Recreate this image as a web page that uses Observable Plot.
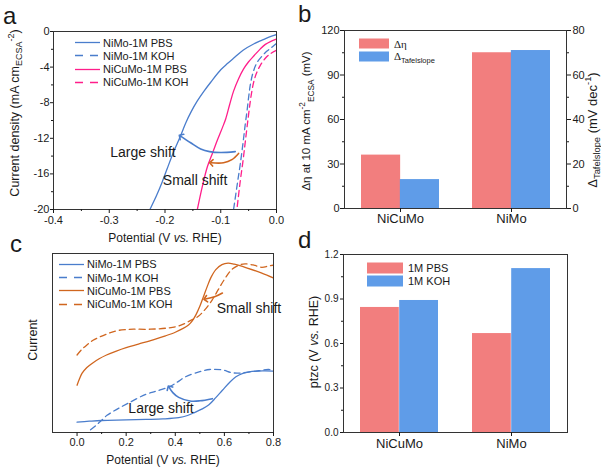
<!DOCTYPE html>
<html><head><meta charset="utf-8">
<script src="https://cdn.jsdelivr.net/npm/d3@7"></script>
<script src="https://cdn.jsdelivr.net/npm/@observablehq/plot@0.6"></script>
<style>
body{margin:0;background:#fff;}
#fig{position:relative;width:601px;height:467px;font-family:Arial,"Liberation Sans",sans-serif;color:#1a1a1a;overflow:hidden;background:#fff;}
.lbl{position:absolute;white-space:nowrap;line-height:1;}
.c{transform:translate(-50%,-50%);}
.r{transform:translate(-50%,-50%) rotate(-90deg);}
sub,sup{font-size:72%;line-height:0;}
i{font-style:italic;}
</style></head><body><div id="fig"></div>
<script>
// ---------- data: panel a (LSV) ----------
const aNames = ["NiMo-1M PBS","NiMo-1M KOH","NiCuMo-1M PBS","NiCuMo-1M KOH"];
const aNiMoPBS = [[0,-0.35],[-0.01,-0.55],[-0.025,-0.95],[-0.041,-1.4],[-0.06,-2.1],[-0.075,-2.9],[-0.088,-3.6],[-0.1,-4.3],[-0.118,-5.7],[-0.13,-6.7],[-0.142,-7.8],[-0.153,-9.0],[-0.163,-10.3],[-0.172,-11.7],[-0.185,-13.6],[-0.196,-15.4],[-0.205,-16.9],[-0.215,-18.4],[-0.227,-20]];
const aNiMoKOH = [[0,-1.35],[-0.005,-1.6],[-0.01,-1.85],[-0.017,-2.2],[-0.025,-2.7],[-0.035,-3.5],[-0.042,-4.6],[-0.047,-6.0],[-0.05,-7.4],[-0.053,-9.0],[-0.056,-10.4],[-0.06,-12.5],[-0.065,-14.9],[-0.07,-17],[-0.077,-20]];
const aNiCuMoPBS = [[0,-0.85],[-0.01,-1.1],[-0.02,-1.45],[-0.029,-1.95],[-0.04,-2.7],[-0.05,-3.4],[-0.059,-4.2],[-0.068,-5.3],[-0.077,-6.7],[-0.084,-8.2],[-0.091,-9.8],[-0.097,-10.8],[-0.106,-12.2],[-0.115,-13.7],[-0.124,-15.2],[-0.133,-17.4],[-0.142,-20]];
const aNiCuMoKOH = [[0,-2.1],[-0.011,-2.5],[-0.02,-3.0],[-0.029,-3.8],[-0.036,-4.7],[-0.041,-5.7],[-0.045,-7.0],[-0.048,-8.3],[-0.05,-9.3],[-0.052,-10.3],[-0.056,-12.4],[-0.06,-14.5],[-0.065,-16.8],[-0.071,-20]];
const aArrowLarge = [[-0.074,-13.5],[-0.1,-13.6],[-0.12,-13.5],[-0.136,-13.2],[-0.154,-12.5],[-0.172,-11.75]];
const aArrowSmall = [[-0.068,-13.7],[-0.08,-14.4],[-0.095,-14.75],[-0.117,-14.75]];
const aNoteText = ["Large shift","Small shift"];
const aNoteX = [-0.2395,-0.146];
const aNoteY = [-13.56,-16.74];
const aXTicks = [-0.4,-0.3,-0.2,-0.1,0];
const aXMinor = [-0.35,-0.25,-0.15,-0.05];
const aYTicks = [0,-4,-8,-12,-16,-20];
const aYMinor = [-2,-6,-10,-14,-18];

// ---------- data: panel b ----------
const bCats = ["NiCuMo","NiMo"];
const bEta = [36,105];
const bTafel = [13,71];
const bLeftTicks = [0,30,60,90,120];
const bLeftMinor = [15,45,75,105];
const bRightTicks = [0,20,40,60,80];
const bRightMinor = [10,30,50,70];

// ---------- data: panel c ----------
const cNames = ["NiMo-1M PBS","NiMo-1M KOH","NiCuMo-1M PBS","NiCuMo-1M KOH"];
const cNiMoPBS = [[0,5.8],[0.05,6.3],[0.1,6.7],[0.2,7.0],[0.28,7.3],[0.35,7.6],[0.414,8.3],[0.45,9.5],[0.482,11.4],[0.51,13.2],[0.537,15.5],[0.565,19.5],[0.592,23.6],[0.62,27.8],[0.647,31.1],[0.675,33],[0.701,33.9],[0.756,34.4],[0.8,34.3]];
const cNiMoKOH = [[0.055,1.5],[0.08,4.3],[0.1,6.8],[0.122,9.6],[0.16,12.8],[0.21,16.5],[0.28,21.3],[0.32,23],[0.375,25.5],[0.41,28.3],[0.44,31],[0.5,34],[0.54,35.2],[0.59,35],[0.63,33.4],[0.66,33.2],[0.69,33.6],[0.74,34.5],[0.78,35.2],[0.8,34.6]];
const cNiCuMoPBS = [[0,26.4],[0.01,30],[0.02,33],[0.04,36.3],[0.061,38.6],[0.09,41.2],[0.12,43.3],[0.16,45.5],[0.2,47.4],[0.25,49.4],[0.31,51.8],[0.36,54],[0.4,56],[0.43,58],[0.455,60.2],[0.47,62.5],[0.485,66],[0.5,70.5],[0.515,76],[0.53,81.5],[0.545,86.5],[0.565,91],[0.59,93.8],[0.615,94.6],[0.64,94],[0.69,92],[0.75,89.2],[0.8,86.3]];
const cNiCuMoKOH = [[0,43.3],[0.02,46.5],[0.04,48.9],[0.065,51.5],[0.094,53.5],[0.13,55.5],[0.163,56.9],[0.2,57.5],[0.23,57.7],[0.3,57.7],[0.37,58.4],[0.41,59.4],[0.44,61],[0.465,62.8],[0.49,64.5],[0.52,68.5],[0.55,74],[0.575,79.8],[0.6,85.5],[0.63,91],[0.66,93.5],[0.684,94.2],[0.72,93.5],[0.752,92.3],[0.78,93],[0.8,93.5]];
const cArrowLarge = [[0.551,18.9],[0.5,17.7],[0.46,17.6],[0.414,19.6],[0.39,22.3],[0.375,25.2]];
const cArrowSmall = [[0.592,77.9],[0.56,75.8],[0.523,74.6]];
const cNoteText = ["Small shift","Large shift"];
const cNoteX = [0.70,0.342];
const cNoteY = [69.5,13.3];
const cXTicks = [0,0.2,0.4,0.6,0.8];
const cXMinor = [0.1,0.3,0.5,0.7];

// ---------- data: panel d ----------
const dCats = ["NiCuMo","NiMo"];
const dPBS = [0.843,0.667];
const dKOH = [0.89,1.105];
const dTicks = [0,0.3,0.6,0.9,1.2];
const dMinor = [0.15,0.45,0.75,1.05];

// ---------- styling ----------
const FONT = 'Arial, "Liberation Sans", sans-serif';
const BLUE = "#4a7dcc", PINK = "#ff1e8a", ORANGE = "#d0661f";
const RED_BAR = "#f27e7e", BLUE_BAR = "#5f9ce8";
const FRAME = "#333";
const fig = document.getElementById("fig");
const baseStyle = {background:"transparent", fontFamily: FONT, color:"#1a1a1a", overflow:"visible"};

function place(el, left, top){
  const d = document.createElement("div");
  d.style.cssText = `position:absolute;left:${left}px;top:${top}px;`;
  d.appendChild(el); fig.appendChild(d);
}
function label(html, x, y, size, cls){
  const d = document.createElement("div");
  d.className = "lbl " + (cls||"");
  d.style.left = x+"px"; d.style.top = y+"px"; d.style.fontSize = size+"px";
  d.innerHTML = html; fig.appendChild(d);
}
function lineLegend(x, y0, dy, names, colors, dashes){
  names.forEach((n,i)=>{
    const row = document.createElement("div");
    row.className = "lbl";
    row.style.cssText += `left:${x}px;top:${y0+i*dy}px;transform:translateY(-50%);font-size:11px;display:flex;align-items:center;`;
    row.innerHTML = `<svg width="25" height="4" style="margin-right:3px;overflow:visible"><line x1="0" x2="25" y1="2" y2="2" stroke="${colors[i]}" stroke-width="1.3" ${dashes[i]?'stroke-dasharray="8,7"':''}/></svg><span>${n}</span>`;
    fig.appendChild(row);
  });
}
function boxLegend(x, y0, dy, w, h, colors, htmls, size){
  htmls.forEach((t,i)=>{
    const row = document.createElement("div");
    row.className = "lbl";
    row.style.cssText += `left:${x}px;top:${y0+i*dy}px;transform:translateY(-50%);font-size:${size}px;display:flex;align-items:center;`;
    row.innerHTML = `<span style="display:inline-block;width:${w}px;height:${h}px;background:${colors[i]};margin-right:5px"></span><span>${t}</span>`;
    fig.appendChild(row);
  });
}
const xy = {x: d=>d[0], y: d=>d[1]};
const curveLine = (pts, color, dash) => Plot.line(pts, {...xy, stroke: color, strokeWidth: 1.3, strokeDasharray: dash ? "6,4" : undefined, curve: "catmull-rom", clip: true});
const arrowLine = (pts, color) => Plot.line(pts, {...xy, stroke: color, strokeWidth: 1.6, curve: "catmull-rom", markerEnd: "arrow"});
const blank = () => "";

// ---------- panel a ----------
const aNotes = aNoteText.map((t,i)=>({t, x:aNoteX[i], y:aNoteY[i]}));
const pa = Plot.plot({
  width:300, height:230, marginLeft:53, marginRight:24, marginTop:31, marginBottom:21,
  x:{domain:[-0.4,0], axis:null}, y:{domain:[-20,0], axis:null},
  style: baseStyle,
  marks:[
    curveLine(aNiMoPBS, BLUE, false),
    curveLine(aNiMoKOH, BLUE, true),
    curveLine(aNiCuMoPBS, PINK, false),
    curveLine(aNiCuMoKOH, PINK, true),
    arrowLine(aArrowLarge, BLUE),
    arrowLine(aArrowSmall, ORANGE),
    Plot.text(aNotes, {x:"x", y:"y", text:"t", fontSize:14, fill:"#1a1a1a"}),
    Plot.frame({stroke:FRAME, strokeWidth:1}),
    Plot.axisX({ticks:aXTicks, tickSize:4, tickPadding:3, tickFormat:d=>d.toFixed(1), fontSize:11, label:null}),
    Plot.axisX({ticks:aXMinor, tickSize:2, tickFormat:blank, label:null}),
    Plot.axisY({ticks:aYTicks, tickSize:3, tickPadding:1, tickFormat:d=>String(d), fontSize:11, label:null}),
    Plot.axisY({ticks:aYMinor, tickSize:2, tickFormat:blank, label:null})
  ]
});
place(pa, 0, 0);

// ---------- panel b ----------
const bFactor = bLeftTicks[bLeftTicks.length-1] / bRightTicks[bRightTicks.length-1];
const bData = bCats.map((c,i)=>({cat:c, eta:bEta[i], tafel:bTafel[i]}));
const bW = 301, bML = 44, bMR = 35, PI = 0.3, PO = 0.15;
const bHalf = (bW-bML-bMR)/(bCats.length - PI + 2*PO)*(1-PI)/2;
const pb = Plot.plot({
  width:bW, height:230, marginLeft:bML, marginRight:bMR, marginTop:30, marginBottom:22,
  x:{domain:bCats, paddingInner:PI, paddingOuter:PO, axis:null},
  y:{domain:[0,120], axis:null},
  style: baseStyle,
  marks:[
    Plot.barY(bData, {x:"cat", y:"eta", fill:RED_BAR, insetRight:bHalf}),
    Plot.barY(bData, {x:"cat", y:d=>d.tafel*bFactor, fill:BLUE_BAR, insetLeft:bHalf}),
    Plot.frame({stroke:FRAME, strokeWidth:1}),
    Plot.axisX({tickSize:4, tickPadding:1, fontSize:13, label:null}),
    Plot.axisY({ticks:bLeftTicks, tickSize:4, tickPadding:1, fontSize:11, label:null}),
    Plot.axisY({ticks:bLeftMinor, tickSize:2, tickFormat:blank, label:null}),
    Plot.axisY({ticks:bRightTicks.map(t=>t*bFactor), anchor:"right", tickSize:4, tickPadding:2, fontSize:11, tickFormat:d=>String(Math.round(d/bFactor)), label:null}),
    Plot.axisY({ticks:bRightMinor.map(t=>t*bFactor), anchor:"right", tickSize:2, tickFormat:blank, label:null})
  ]
});
place(pb, 300, 0);

// ---------- panel c ----------
const cNotes = cNoteText.map((t,i)=>({t, x:cNoteX[i], y:cNoteY[i]}));
const pc = Plot.plot({
  width:300, height:237, marginLeft:52, marginRight:27, marginTop:23, marginBottom:35,
  x:{domain:[-0.1,0.8], axis:null}, y:{domain:[0,100], axis:null},
  style: baseStyle,
  marks:[
    curveLine(cNiMoPBS, BLUE, false),
    curveLine(cNiMoKOH, BLUE, true),
    curveLine(cNiCuMoPBS, ORANGE, false),
    curveLine(cNiCuMoKOH, ORANGE, true),
    arrowLine(cArrowLarge, BLUE),
    arrowLine(cArrowSmall, ORANGE),
    Plot.text(cNotes, {x:"x", y:"y", text:"t", fontSize:14, fill:"#1a1a1a"}),
    Plot.frame({stroke:FRAME, strokeWidth:1}),
    Plot.axisX({ticks:cXTicks, tickSize:4, tickPadding:2, tickFormat:d=>d.toFixed(1), fontSize:11, label:null}),
    Plot.axisX({ticks:cXMinor, tickSize:2, tickFormat:blank, label:null})
  ]
});
place(pc, 0, 230);

// ---------- panel d ----------
const dData = dCats.map((c,i)=>({cat:c, pbs:dPBS[i], koh:dKOH[i]}));
const dW = 301, dML = 43, dMR = 34;
const dHalf = (dW-dML-dMR)/(dCats.length - PI + 2*PO)*(1-PI)/2;
const pd = Plot.plot({
  width:dW, height:237, marginLeft:dML, marginRight:dMR, marginTop:24, marginBottom:35,
  x:{domain:dCats, paddingInner:PI, paddingOuter:PO, axis:null},
  y:{domain:[0,1.2], axis:null},
  style: baseStyle,
  marks:[
    Plot.barY(dData, {x:"cat", y:"pbs", fill:RED_BAR, insetRight:dHalf}),
    Plot.barY(dData, {x:"cat", y:"koh", fill:BLUE_BAR, insetLeft:dHalf}),
    Plot.frame({stroke:FRAME, strokeWidth:1}),
    Plot.axisX({tickSize:4, tickPadding:2, fontSize:13, label:null}),
    Plot.axisY({ticks:dTicks, tickSize:3, tickPadding:2, fontSize:10, tickFormat:d=>d.toFixed(1), label:null}),
    Plot.axisY({ticks:dMinor, tickSize:2, tickFormat:blank, label:null})
  ]
});
place(pd, 300, 230);

// ---------- text overlays ----------
label("a", 3, 4, 24);
label("b", 298, 2, 24);
label("c", 10, 232, 24);
label("d", 298, 228, 24);

label('Potential (V <i>vs.</i> RHE)', 165, 238, 12, "c");
label('Current density (mA cm<sub>ECSA</sub><sup>-2</sup>)', 15, 113, 12.5, "r");
label('Δη at 10 mA cm<sup>-2</sup><sub>ECSA</sub> (mV)', 307, 121, 11.5, "r");
label('Δ<sub>Tafelslope</sub> (mV dec<sup>-1</sup>)', 592, 130, 13, "r");
label('Potential (V <i>vs.</i> RHE)', 163, 460, 12, "c");
label('Current', 33, 340, 12.5, "r");
label('ptzc (V <i>vs.</i> RHE)', 314, 342, 12.5, "r");

lineLegend(75, 42.7, 13.2, aNames, [BLUE,BLUE,PINK,PINK], [false,true,false,true]);
lineLegend(59, 264.3, 13.3, cNames, [BLUE,BLUE,ORANGE,ORANGE], [false,true,false,true]);
boxLegend(359, 43.5, 12.5, 30, 10, [RED_BAR,BLUE_BAR], ['<span style="font-family:\'Liberation Serif\',serif">Δη</span>', '<span style="font-family:\'Liberation Serif\',serif">Δ</span><sub style="font-size:7.5px">Tafelslope</sub>'], 11);
boxLegend(367, 267.5, 13, 36, 11, [RED_BAR,BLUE_BAR], ["1M PBS","1M KOH"], 11);
</script></body></html>
